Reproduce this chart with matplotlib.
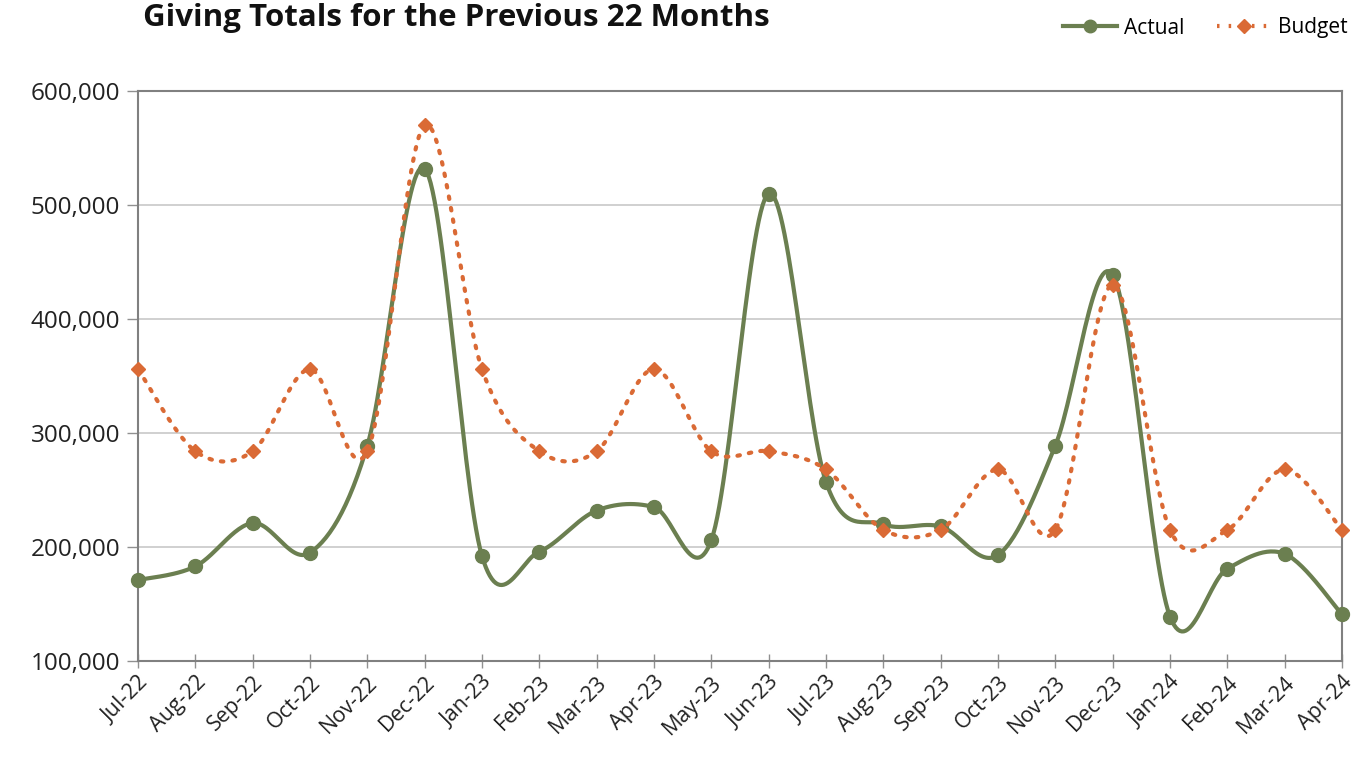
import numpy as np
import matplotlib
matplotlib.use("Agg")
import matplotlib.pyplot as plt
from matplotlib.ticker import FuncFormatter
from matplotlib.lines import Line2D

months = ["Jul-22", "Aug-22", "Sep-22", "Oct-22", "Nov-22", "Dec-22", "Jan-23", "Feb-23",
          "Mar-23", "Apr-23", "May-23", "Jun-23", "Jul-23", "Aug-23", "Sep-23", "Oct-23",
          "Nov-23", "Dec-23", "Jan-24", "Feb-24", "Mar-24", "Apr-24"]
actual = [171000, 183000, 221000, 195000, 289000, 532000, 192000, 196000, 232000, 235000,
          206000, 510000, 257000, 220000, 218000, 193000, 289000, 439000, 139000, 181000,
          194000, 141000]
budget = [356000, 284000, 284000, 356000, 284000, 570000, 356000, 284000, 284000, 356000,
          284000, 284000, 268000, 215000, 215000, 268000, 215000, 430000, 215000, 215000,
          268000, 215000]

GREEN = "#6B7F50"
ORANGE = "#DA6A35"

plt.rcParams['font.family'] = ['Open Sans', 'DejaVu Sans']


def smooth(x, y, n=30, k=6.0):
    x = np.asarray(x, float)
    y = np.asarray(y, float)
    px = np.concatenate([[x[0]], x, [x[-1]]])
    py = np.concatenate([[y[0]], y, [y[-1]]])
    xs, ys = [], []
    t = np.linspace(0, 1, n)
    for i in range(1, len(px) - 2):
        p0x, p1x, p2x, p3x = px[i - 1], px[i], px[i + 1], px[i + 2]
        p0y, p1y, p2y, p3y = py[i - 1], py[i], py[i + 1], py[i + 2]
        c1x = p1x + (p2x - p0x) / k
        c1y = p1y + (p2y - p0y) / k
        c2x = p2x - (p3x - p1x) / k
        c2y = p2y - (p3y - p1y) / k
        bx = (1 - t) ** 3 * p1x + 3 * (1 - t) ** 2 * t * c1x + 3 * (1 - t) * t ** 2 * c2x + t ** 3 * p2x
        by = (1 - t) ** 3 * p1y + 3 * (1 - t) ** 2 * t * c1y + 3 * (1 - t) * t ** 2 * c2y + t ** 3 * p2y
        xs.append(bx)
        ys.append(by)
    return np.concatenate(xs), np.concatenate(ys)


fig = plt.figure(figsize=(13.58, 7.64), dpi=100)
ax = fig.add_axes([138 / 1358, 1 - 661 / 764, (1342 - 138) / 1358, (661 - 91) / 764])

x = np.arange(len(months))
sxa, sya = smooth(x, actual)
sxb, syb = smooth(x, budget)

ax.plot(sxa, sya, color=GREEN, lw=3, zorder=3, clip_on=False, solid_capstyle='round')
ax.plot(x, actual, 'o', color=GREEN, ms=10, zorder=4, clip_on=False)
ax.plot(sxb, syb, color=ORANGE, lw=3, ls=(0, (0.6, 2.2)), dash_capstyle='round', zorder=5, clip_on=False)
ax.plot(x, budget, 'D', color=ORANGE, ms=7.5, zorder=6, clip_on=False)

ax.set_xlim(0, len(months) - 1)
ax.set_ylim(100000, 600000)
ax.set_yticks(np.arange(100000, 600001, 100000))
ax.yaxis.set_major_formatter(FuncFormatter(lambda v, p: f"{int(v):,}"))
ax.set_xticks(x)
ax.set_xticklabels(months, rotation=45, ha='right', rotation_mode='anchor')
ax.grid(axis='y', color='#C8C8C8', lw=1.2)
ax.set_axisbelow(True)
for s in ax.spines.values():
    s.set_color('#808080')
    s.set_linewidth(1.5)
ax.tick_params(axis='x', length=10, width=1, color='#909090', labelsize=15.5, pad=3, direction='inout')
ax.tick_params(axis='y', length=8, width=1, color='#909090', labelsize=17.5, pad=5)
for lbl in ax.get_yticklabels():
    lbl.set_color('#222222')
for lbl in ax.get_xticklabels():
    lbl.set_color('#222222')

fig.text(143 / 1358, 1 - 18 / 764, "Giving Totals for the Previous 22 Months",
         fontsize=22.5, fontweight='bold', va='center', ha='left', color='#111111')

handles = [Line2D([], [], color=GREEN, lw=3, marker='o', ms=9, label='Actual'),
           Line2D([], [], color=ORANGE, lw=3, ls=(0, (0.6, 2.2)), marker='D', ms=7, label='Budget')]
leg = fig.legend(handles=handles, loc='center right', bbox_to_anchor=(1358 / 1358 + 0.006, 1 - 28 / 764),
                 ncol=2, frameon=False, fontsize=15, handlelength=2.6, columnspacing=1.6, handletextpad=0.3)

fig.savefig("out.png", dpi=100)
